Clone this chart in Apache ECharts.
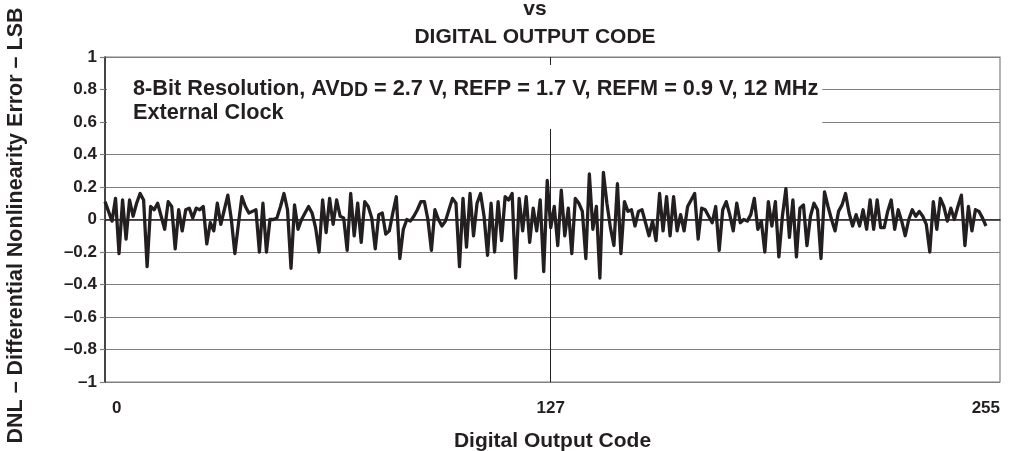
<!DOCTYPE html>
<html>
<head>
<meta charset="utf-8">
<script src="https://cdn.jsdelivr.net/npm/echarts@6/dist/echarts.min.js"></script>
<style>
html,body{margin:0;padding:0;background:#fff;}
#c{width:1028px;height:451px;}
</style>
</head>
<body>
<div id="c"></div>
<script>
// DNL (LSB) for each digital output code, starting at code 0
const dnl = [
  0.11, 0.05, -0.01, 0.13, -0.21, 0.12, -0.12, 0.12, 0.02, 0.10,
  0.16, 0.12, -0.29, 0.08, 0.06, 0.10, 0.02, -0.06, 0.11, 0.08,
  -0.18, 0.06, -0.07, 0.06, 0.07, 0.01, 0.07, 0.06, 0.08, -0.15,
  -0.02, -0.07, 0.10, -0.03, 0.06, 0.15, 0.00, -0.21, -0.03, 0.14,
  0.08, 0.04, 0.05, 0.06, -0.20, 0.10, -0.20, 0.00, 0.00, 0.01,
  0.08, 0.16, 0.06, -0.30, 0.09, -0.06, 0.00, 0.04, 0.08, 0.04,
  -0.05, -0.20, 0.12, -0.08, 0.13, -0.03, 0.12, 0.02, 0.01, -0.19,
  0.16, -0.10, 0.10, -0.14, 0.11, 0.08, 0.01, -0.18, 0.03, 0.04,
  -0.09, -0.07, 0.04, 0.14, -0.24, -0.06, 0.00, -0.01, 0.02, 0.06,
  0.11, 0.11, 0.00, -0.19, 0.06, 0.00, -0.04, -0.01, 0.06, 0.13,
  0.10, -0.29, 0.13, -0.17, 0.16, -0.10, 0.10, 0.16, 0.02, -0.22,
  0.10, -0.20, 0.11, -0.13, 0.14, 0.12, 0.16, -0.36, 0.13, -0.07,
  0.14, -0.14, 0.07, -0.07, 0.12, -0.32, 0.24, -0.05, 0.08, -0.16,
  0.18, -0.10, 0.07, -0.21, 0.13, 0.10, 0.05, -0.24, 0.28, -0.06,
  0.08, -0.36, 0.29, 0.10, -0.05, -0.16, 0.22, -0.21, 0.11, 0.05,
  0.06, -0.04, 0.05, 0.06, -0.02, -0.10, -0.01, -0.13, 0.16, -0.07,
  0.14, -0.10, 0.14, -0.07, 0.03, -0.07, 0.08, 0.12, 0.16, -0.12,
  0.07, 0.06, 0.02, -0.02, 0.08, -0.19, 0.06, 0.11, 0.03, -0.07,
  0.10, -0.02, 0.00, -0.01, 0.03, 0.13, -0.06, -0.01, -0.20, 0.11,
  -0.04, 0.11, -0.23, 0.02, 0.19, -0.11, 0.12, -0.23, 0.07, 0.09,
  -0.16, 0.02, 0.10, 0.06, -0.24, 0.17, 0.08, 0.00, -0.07, 0.05,
  0.09, 0.16, 0.04, -0.04, 0.03, -0.04, 0.06, -0.06, 0.12, -0.06,
  0.12, -0.05, -0.05, 0.05, 0.12, -0.06, 0.06, -0.01, -0.10, 0.00,
  0.06, 0.02, 0.05, 0.02, -0.03, -0.20, 0.11, -0.06, 0.13, 0.08,
  -0.01, 0.07, 0.00, 0.08, 0.15, -0.16, 0.08, -0.07, 0.06, 0.05,
  0.01, -0.04
];
const xTickValues = [0, 127, 255];
const xRange = [0, 255];
const yRange = [-1, 1];
const yStep = 0.2;
const midCode = 127;

const FONT = '"Liberation Sans", Arial, Helvetica, sans-serif';
const INK = '#231f20';
const chart = echarts.init(document.getElementById('c'), null, {renderer: 'canvas'});

const option = {
  animation: false,
  backgroundColor: '#ffffff',
  title: [
    {
      text: '{a|8-Bit Resolution, AV}{sub|DD}{a| = 2.7 V, REFP = 1.7 V, REFM = 0.9 V, 12 MHz}\n{a|External Clock}',
      left: 107,
      top: 64,
      padding: [13, 4, 5, 26],
      backgroundColor: '#ffffff',
      z: 10,
      textStyle: {
        fontFamily: FONT, fontWeight: 'bold', fontSize: 21.7, color: INK,
        rich: {
          a: {fontFamily: FONT, fontWeight: 'bold', fontSize: 21.7, color: INK, lineHeight: 24},
          sub: {fontFamily: FONT, fontWeight: 'bold', fontSize: 19.5, color: INK, lineHeight: 14, verticalAlign: 'bottom'}
        }
      }
    }
  ],
  graphic: [{
    type: 'text',
    x: 535,
    y: -5,
    z: 10,
    style: {
      text: 'vs\nDIGITAL OUTPUT CODE',
      align: 'center',
      verticalAlign: 'top',
      lineHeight: 28,
      font: 'bold 21px ' + FONT,
      fill: INK
    }
  }],
  grid: {left: 105, right: 28, top: 57, bottom: 69, outerBoundsMode: 'none', containLabel: false, show: true, borderColor: '#808080', borderWidth: 1.2},
  xAxis: {
    type: 'value',
    min: xRange[0], max: xRange[1],
    name: 'Digital Output Code',
    nameLocation: 'middle',
    nameGap: 49,
    nameTextStyle: {fontFamily: FONT, fontWeight: 'bold', fontSize: 21, color: INK},
    axisLine: {show: true, lineStyle: {color: INK, width: 1.5}},
    axisTick: {show: false},
    splitLine: {show: false},
    axisLabel: {
      customValues: xTickValues,
      margin: 18,
      alignMinLabel: 'left',
      alignMaxLabel: 'right',
      fontFamily: FONT, fontWeight: 'bold', fontSize: 17, color: INK,
      formatter: function (v) { return v === 0 ? '{l|0}' : String(v); },
      rich: {l: {fontFamily: FONT, fontWeight: 'bold', fontSize: 17, color: INK, padding: [0, 0, 0, 7]}}
    }
  },
  yAxis: {
    type: 'value',
    min: yRange[0], max: yRange[1], interval: yStep,
    name: 'DNL – Differential Nonlinearity Error – LSB',
    nameLocation: 'middle',
    nameGap: 78,
    nameTextStyle: {fontFamily: FONT, fontWeight: 'bold', fontSize: 21.5, color: INK, padding: [0, 12, 0, 0]},
    axisLine: {show: true, lineStyle: {color: INK, width: 1.5}},
    axisTick: {show: true, length: 5, lineStyle: {color: '#808080', width: 1.2}},
    splitLine: {show: true, lineStyle: {color: '#808080', width: 1.2}},
    axisLabel: {
      margin: 8,
      fontFamily: FONT, fontWeight: 'bold', fontSize: 17, color: INK,
      formatter: function (v) {
        const r = Math.round(v * 10) / 10;
        return r < 0 ? '–' + String(-r) : String(r);
      }
    }
  },
  series: [{
    type: 'line',
    data: dnl.map((v, i) => [i, v]),
    showSymbol: false,
    lineStyle: {color: INK, width: 3.3, join: 'round'},
    z: 3,
    markLine: {
      silent: true,
      symbol: 'none',
      label: {show: false},
      lineStyle: {color: INK, width: 1, type: 'solid'},
      data: [{xAxis: midCode}]
    }
  }]
};
chart.setOption(option);
</script>
</body>
</html>
